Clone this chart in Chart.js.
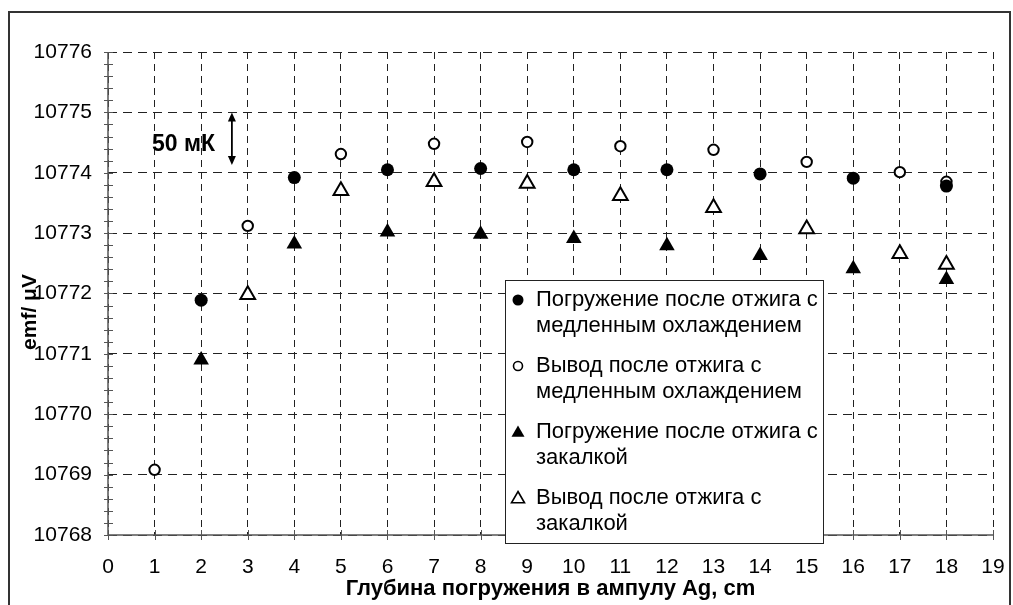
<!DOCTYPE html>
<html lang="ru">
<head>
  <meta charset="UTF-8" />
  <title>emf vs depth</title>
  <script src="https://cdn.jsdelivr.net/npm/chart.js"></script>
  <style>
    body { margin: 0; background: #fff; }
    #wrap { width: 1013px; height: 605px; }
  </style>
</head>
<body>
  <div id="wrap"><canvas id="grafica" width="1013" height="605"></canvas></div>
  <script>
    // данные
    const depthSlowIn = [2, 4, 6, 8, 10, 12, 14, 16, 18];
    const emfSlowIn = [10771.89, 10773.92, 10774.05, 10774.07, 10774.05, 10774.05, 10773.98, 10773.91, 10773.78];
    const depthSlowOut = [1, 3, 5, 7, 9, 11, 13, 15, 17, 18];
    const emfSlowOut = [10769.08, 10773.12, 10774.31, 10774.48, 10774.51, 10774.44, 10774.38, 10774.18, 10774.01, 10773.85];
    const depthQuenchIn = [2, 4, 6, 8, 10, 12, 14, 16, 18];
    const emfQuenchIn = [10770.90, 10772.82, 10773.02, 10772.98, 10772.91, 10772.79, 10772.63, 10772.41, 10772.23];
    const depthQuenchOut = [3, 5, 7, 9, 11, 13, 15, 17, 18];
    const emfQuenchOut = [10771.98, 10773.70, 10773.85, 10773.82, 10773.62, 10773.42, 10773.07, 10772.66, 10772.48];

    const xMin = 0, xMax = 19;
    const yMin = 10768, yMax = 10776;
    const yMinorStep = 0.2;

    const legendLines = [
      ["Погружение после отжига с", "медленным охлаждением"],
      ["Вывод после отжига с", "медленным охлаждением"],
      ["Погружение после отжига с", "закалкой"],
      ["Вывод после отжига с", "закалкой"]
    ];

    const pts = (xs, ys) => xs.map((x, i) => ({ x: x, y: ys[i] }));

    function marker(ctx, kind, x, y, r, filled) {
      ctx.beginPath();
      if (kind === 'circle') {
        ctx.arc(x, y, r, 0, Math.PI * 2);
      } else {
        ctx.moveTo(x, y - r);
        ctx.lineTo(x + r * 0.866, y + r * 0.5);
        ctx.lineTo(x - r * 0.866, y + r * 0.5);
        ctx.closePath();
      }
      if (filled) { ctx.fillStyle = '#000'; ctx.fill(); }
      else { ctx.fillStyle = '#fff'; ctx.fill(); ctx.lineWidth = 1.6; ctx.strokeStyle = '#000'; ctx.stroke(); }
    }

    const extras = {
      id: 'extras',
      afterDraw(chart) {
        const ctx = chart.ctx;
        const xs = chart.scales.x, ys = chart.scales.y;
        const x0 = xs.getPixelForValue(xMin), x1 = xs.getPixelForValue(xMax);
        const yb = ys.getPixelForValue(yMin), yt = ys.getPixelForValue(yMax);
        ctx.save();

        // оси
        ctx.strokeStyle = '#555';
        ctx.lineWidth = 1.5;
        ctx.setLineDash([]);
        ctx.beginPath();
        ctx.moveTo(x0, yt); ctx.lineTo(x0, yb); ctx.lineTo(x1, yb);
        ctx.stroke();

        // засечки
        ctx.lineWidth = 1;
        ctx.beginPath();
        for (let v = yMin; v <= yMax + 1e-9; v += yMinorStep) {
          const p = Math.round(ys.getPixelForValue(v)) + 0.5;
          ctx.moveTo(x0 - 4, p); ctx.lineTo(x0 + 5, p);
        }
        for (let v = xMin; v <= xMax; v++) {
          const p = Math.round(xs.getPixelForValue(v)) + 0.5;
          ctx.moveTo(p, yb - 5); ctx.lineTo(p, yb + 5);
        }
        ctx.stroke();

        // 50 мК
        const ax = xs.getPixelForValue(2.66);
        const a1 = ys.getPixelForValue(10775), a2 = ys.getPixelForValue(10774.13);
        ctx.strokeStyle = '#000';
        ctx.fillStyle = '#000';
        ctx.lineWidth = 1.8;
        ctx.beginPath(); ctx.moveTo(ax, a1 + 4); ctx.lineTo(ax, a2 - 4); ctx.stroke();
        ctx.beginPath(); ctx.moveTo(ax, a1); ctx.lineTo(ax - 4, a1 + 9); ctx.lineTo(ax + 4, a1 + 9); ctx.closePath(); ctx.fill();
        ctx.beginPath(); ctx.moveTo(ax, a2); ctx.lineTo(ax - 4, a2 - 9); ctx.lineTo(ax + 4, a2 - 9); ctx.closePath(); ctx.fill();
        ctx.font = 'bold 23px "Liberation Sans", Arial, sans-serif';
        ctx.textAlign = 'left';
        ctx.textBaseline = 'middle';
        ctx.fillText('50 мК', xs.getPixelForValue(0.945), ys.getPixelForValue(10774.46));

        // подпись оси Y
        ctx.save();
        ctx.translate(30, 312);
        ctx.rotate(-Math.PI / 2);
        ctx.textAlign = 'center';
        ctx.font = 'bold 21px "Liberation Sans", Arial, sans-serif';
        ctx.fillText('emf/ μV', 0, 0);
        ctx.restore();

        // легенда
        const bx = 505, by = 280, bw = 318, bh = 263;
        ctx.fillStyle = '#fff';
        ctx.fillRect(bx, by, bw, bh);
        ctx.strokeStyle = '#222';
        ctx.lineWidth = 1;
        ctx.strokeRect(bx + 0.5, by + 0.5, bw, bh);
        const kinds = [['circle', true], ['circle', false], ['triangle', true], ['triangle', false]];
        ctx.font = '22px "Liberation Sans", Arial, sans-serif';
        ctx.textAlign = 'left';
        ctx.textBaseline = 'middle';
        legendLines.forEach((lines, i) => {
          const ly = 300 + i * 66;
          const k = kinds[i];
          marker(ctx, k[0], 518, k[0] === 'circle' ? ly : ly + 1, k[0] === 'circle' ? (k[1] ? 5.5 : 4.5) : 7.5, k[1]);
          ctx.fillStyle = '#000';
          lines.forEach((t, j) => ctx.fillText(t, 536, ly + j * 26));
        });

        // рамка
        ctx.strokeStyle = '#333';
        ctx.lineWidth = 2;
        ctx.beginPath();
        ctx.moveTo(9, 605); ctx.lineTo(9, 12); ctx.lineTo(1010, 12); ctx.lineTo(1010, 605);
        ctx.stroke();
        ctx.restore();
      }
    };

    const tickFont = { family: '"Liberation Sans", Arial, sans-serif', size: 21 };

    new Chart(document.getElementById("grafica"), {
      type: 'scatter',
      data: {
        datasets: [
          { label: legendLines[0].join(' '), data: pts(depthSlowIn, emfSlowIn), pointStyle: 'circle', pointRadius: 6.5, backgroundColor: '#000', borderColor: '#000', borderWidth: 0 },
          { label: legendLines[1].join(' '), data: pts(depthSlowOut, emfSlowOut), pointStyle: 'circle', pointRadius: 5.2, backgroundColor: '#fff', borderColor: '#000', borderWidth: 2 },
          { label: legendLines[2].join(' '), data: pts(depthQuenchIn, emfQuenchIn), pointStyle: 'triangle', pointRadius: 9, backgroundColor: '#000', borderColor: '#000', borderWidth: 0 },
          { label: legendLines[3].join(' '), data: pts(depthQuenchOut, emfQuenchOut), pointStyle: 'triangle', pointRadius: 8.5, backgroundColor: '#fff', borderColor: '#000', borderWidth: 2 }
        ]
      },
      options: {
        responsive: false,
        animation: false,
        layout: { padding: { left: 0, top: 52, right: 20, bottom: 0 } },
        plugins: { legend: { display: false }, tooltip: { enabled: false } },
        scales: {
          x: {
            type: 'linear', min: xMin, max: xMax,
            afterFit: s => { s.height = 70; s.paddingLeft = 0; s.paddingRight = 0; },
            ticks: { stepSize: 1, color: '#000', font: tickFont, padding: 20, maxRotation: 0 },
            grid: { color: '#222', lineWidth: 1, drawTicks: false },
            border: { display: false, dash: [7, 5] },
            title: { display: true, text: 'Глубина погружения в ампулу Ag, cm', color: '#000', font: { family: '"Liberation Sans", Arial, sans-serif', size: 22, weight: 'bold' }, padding: { top: 0, bottom: 3 } }
          },
          y: {
            type: 'linear', min: yMin, max: yMax,
            afterFit: s => { s.width = 108; s.paddingTop = 0; s.paddingBottom = 0; },
            ticks: { stepSize: 1, color: '#000', font: tickFont, padding: 16, callback: v => String(v) },
            grid: { color: '#222', lineWidth: 1, drawTicks: false },
            border: { display: false, dash: [9, 6] }
          }
        }
      },
      plugins: [extras]
    });
  </script>
</body>
</html>
